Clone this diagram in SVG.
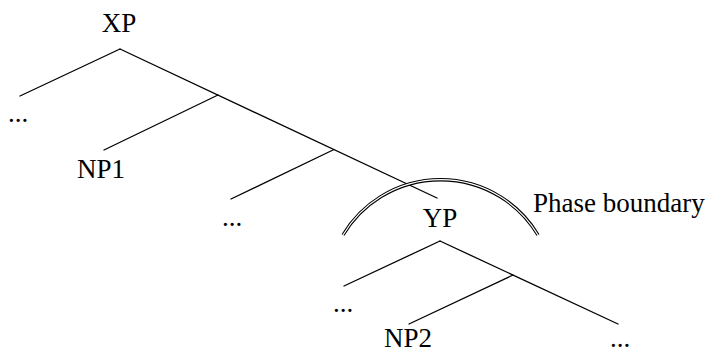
<svg xmlns="http://www.w3.org/2000/svg" width="711" height="352" viewBox="0 0 711 352">
<style>
text{font-family:"Liberation Serif","Times New Roman",serif;font-size:27px;fill:#000}
.e{stroke:#000;stroke-width:1.3;fill:none;stroke-linecap:round}
.arc{fill:none}
</style>
<rect width="711" height="352" fill="#fff"/>
<g id="connectors">
<line class="e" x1="120" y1="49" x2="20" y2="96"/>
<line class="e" x1="120" y1="49" x2="437" y2="198"/>
<line class="e" x1="218" y1="95" x2="104" y2="150"/>
<line class="e" x1="334" y1="149.5" x2="231" y2="199"/>
<line class="e" x1="440" y1="241" x2="344" y2="286"/>
<line class="e" x1="440" y1="241" x2="618" y2="324"/>
<line class="e" x1="513" y1="275" x2="409" y2="324"/>
</g>
<g id="phase-boundary">
<path class="arc" d="M343,235 A113.6,113.6 0 0 1 538,235" stroke="#000" stroke-width="3.4"/>
<path class="arc" d="M343,235 A113.6,113.6 0 0 1 538,235" stroke="#fff" stroke-width="1.2"/>
<text x="533" y="212" font-size="27.6">Phase boundary</text>
</g>
<g id="XP"><text x="119" y="32" text-anchor="middle">XP</text></g>
<g id="dots1"><text x="8" y="122">...</text></g>
<g id="NP1"><text x="101" y="178" text-anchor="middle">NP1</text></g>
<g id="dots2"><text x="222" y="226">...</text></g>
<g id="YP"><text x="440" y="227" text-anchor="middle">YP</text></g>
<g id="dots3"><text x="333" y="312">...</text></g>
<g id="NP2"><text x="408" y="347" text-anchor="middle">NP2</text></g>
<g id="dots4"><text x="610" y="347">...</text></g>
</svg>
